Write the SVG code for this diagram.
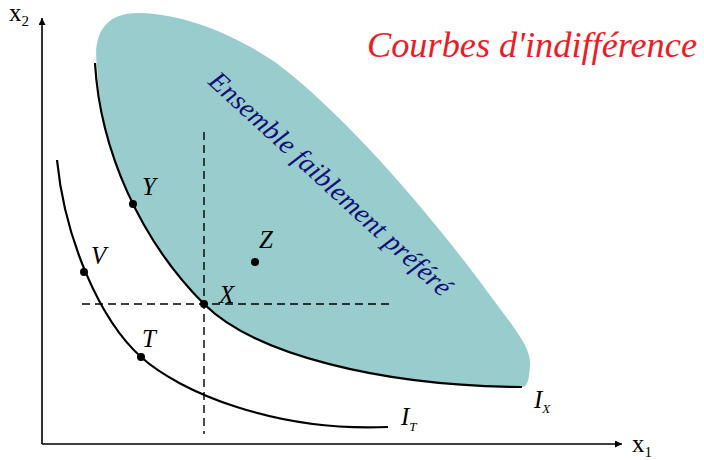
<svg xmlns="http://www.w3.org/2000/svg" width="704" height="460" viewBox="0 0 704 460">
<style>
.ax{stroke:#000;stroke-width:1.6;fill:none}
.crv{stroke:#000;stroke-width:2.2;fill:none}
.dash{stroke:#000;stroke-width:1.4;stroke-dasharray:8,5;fill:none}
.lbl{font-family:"Liberation Serif",serif;font-style:italic;font-size:25px;fill:#000}
.ax-lbl{font-family:"Liberation Serif",serif;font-size:25px;fill:#000}
.dot{fill:#000}
</style>
<defs>
<marker id="arr" viewBox="0 0 10 10" refX="10" refY="5" markerWidth="9" markerHeight="7" markerUnits="userSpaceOnUse" orient="auto">
<path d="M0,0 L10,5 L0,10 Z" fill="#000"/>
</marker>
</defs>
<g id="preferred-set">
<path d="M97,66 C93,38 102,12 140,13 C185,14 235,35 275,62 C342,112 428,210 492,298 C520,335 531,350 530,365 C529,382 527,387 522,387 C380,386 254,354 204,304 C140,240 100,150 97,66 Z" fill="#99CCCC"/>
<text x="0" y="0" transform="translate(207,83) rotate(42.5)" font-family="Liberation Serif,serif" font-style="italic" font-size="27.5" fill="#10107A" textLength="318" lengthAdjust="spacing">Ensemble faiblement préféré</text>
</g>
<g id="axes">
<line class="ax" x1="42" y1="444" x2="42" y2="18" marker-end="url(#arr)"/>
<line class="ax" x1="42" y1="444" x2="622" y2="444" marker-end="url(#arr)"/>
<text class="ax-lbl" x="9" y="21">x<tspan font-size="15" dy="5">2</tspan></text>
<text class="ax-lbl" x="632" y="452">x<tspan font-size="15" dy="5">1</tspan></text>
</g>
<g id="connectors">
<line class="dash" x1="204" y1="132" x2="204" y2="434"/>
<line class="dash" x1="82" y1="304" x2="390" y2="304"/>
</g>
<g id="curve-IX">
<path class="crv" d="M95,63 C100,150 140,240 204,304 C254,354 380,386 522,387"/>
<text class="lbl" x="534" y="408" font-size="23">I<tspan font-size="13" dy="5">X</tspan></text>
</g>
<g id="curve-IT">
<path class="crv" d="M57,160 C65,240 100,320 141,357 C180,392 275,432 388,427"/>
<text class="lbl" x="401" y="425">I<tspan font-size="13" dy="6">T</tspan></text>
</g>
<g id="point-Y"><circle class="dot" cx="133" cy="204" r="4"/><text class="lbl" x="142" y="195">Y</text></g>
<g id="point-V"><circle class="dot" cx="84" cy="272" r="4"/><text class="lbl" x="91" y="264">V</text></g>
<g id="point-T"><circle class="dot" cx="141" cy="357" r="4"/><text class="lbl" x="142" y="347">T</text></g>
<g id="point-X"><circle class="dot" cx="204" cy="304" r="4"/><text class="lbl" x="219" y="303">X</text></g>
<g id="point-Z"><circle class="dot" cx="255" cy="262" r="4"/><text class="lbl" x="259" y="248">Z</text></g>
<g id="title">
<text x="367" y="57" font-family="Liberation Serif,serif" font-style="italic" font-size="36" fill="#ED1C24" textLength="330" lengthAdjust="spacingAndGlyphs">Courbes d'indifférence</text>
</g>
</svg>
